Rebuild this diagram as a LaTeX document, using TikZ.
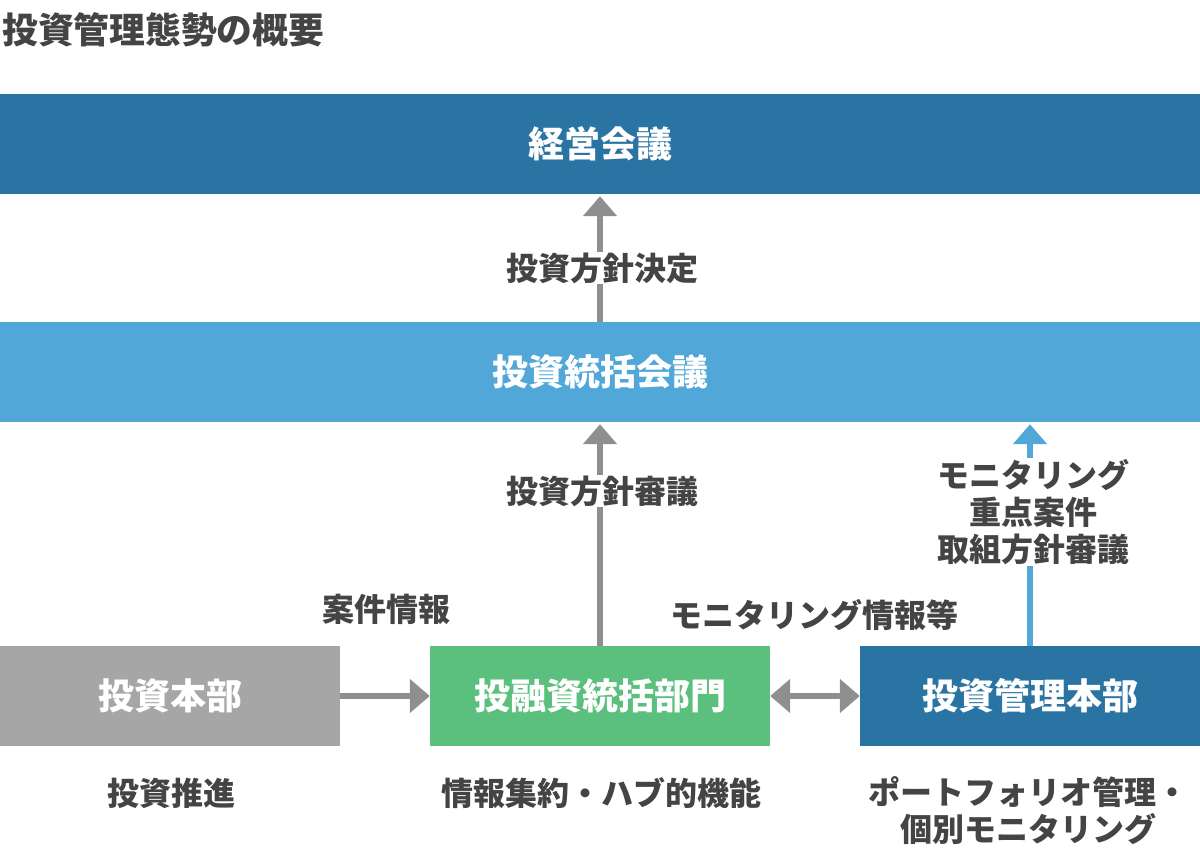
\documentclass[tikz,border=0pt]{standalone}
\usepackage{fontspec}
\setmainfont{Noto Sans CJK JP}
\usetikzlibrary{arrows.meta}
\definecolor{dblue}{HTML}{2A74A3}
\definecolor{lblue}{HTML}{52A7D9}
\definecolor{gboxc}{HTML}{A6A6A6}
\definecolor{mgreen}{HTML}{5BBF7E}
\definecolor{agray}{HTML}{8F8F8F}
\definecolor{tgray}{HTML}{444444}
\begin{document}
\begin{tikzpicture}[x=1pt,y=-1pt,
  box/.style={draw=none, inner sep=0pt, text=white, minimum height=100pt,
    font=\fontsize{36}{40}\selectfont\bfseries},
  lab/.style={fill=white, inner sep=1pt, text=tgray, align=center,
    font=\fontsize{32}{37}\selectfont\bfseries},
  captxt/.style={inner sep=0pt, text=tgray, align=center,
    font=\fontsize{32}{37}\selectfont\bfseries},
  arr/.style={line width=6pt, draw=agray, -{Triangle[width=33pt,length=20pt]}, shorten >=2pt},
  darr/.style={line width=6pt, draw=agray, {Triangle[width=33pt,length=20pt]}-{Triangle[width=33pt,length=20pt]}}
]
\useasboundingbox (0,0) rectangle (1200,854);
\node[anchor=west, inner sep=0pt, text=tgray, font=\fontsize{35.8}{40}\selectfont\bfseries] (title) at (2,30) {投資管理態勢の概要};

\node[box, fill=dblue, minimum width=1200pt] (top) at (600,144) {経営会議};
\node[box, fill=lblue, minimum width=1200pt] (mid) at (600,372) {投資統括会議};
\node[box, fill=gboxc, minimum width=340pt] (lb) at (170,696) {投資本部};
\node[box, fill=mgreen, minimum width=340pt] (gb) at (600,696) {投融資統括部門};
\node[box, fill=dblue, minimum width=340pt] (rb) at (1030,696) {投資管理本部};

\draw[arr] (mid.north) -- (top.south);
\draw[arr] (gb.north) -- (gb.north |- mid.south);
\draw[arr, draw=lblue] (rb.north) -- (rb.north |- mid.south);
\draw[arr, shorten >=0pt] (lb.east) -- (gb.west);
\draw[darr] (gb.east) -- (rb.west);

\node[lab] (l1) at (602,268) {投資方針決定};
\node[lab] (l2) at (602,491) {投資方針審議};
\node[lab] (l3) at (1033,512) {モニタリング\\重点案件\\取組方針審議};
\node[captxt] (l4) at (386,609) {案件情報};
\node[captxt] (l5) at (814,615) {モニタリング情報等};
\node[captxt] (c1) at (171,793) {投資推進};
\node[captxt] (c2) at (601,793) {情報集約・ハブ的機能};
\node[captxt] (c3) at (1028,811) {ポートフォリオ管理・\\個別モニタリング};
\end{tikzpicture}
\end{document}
